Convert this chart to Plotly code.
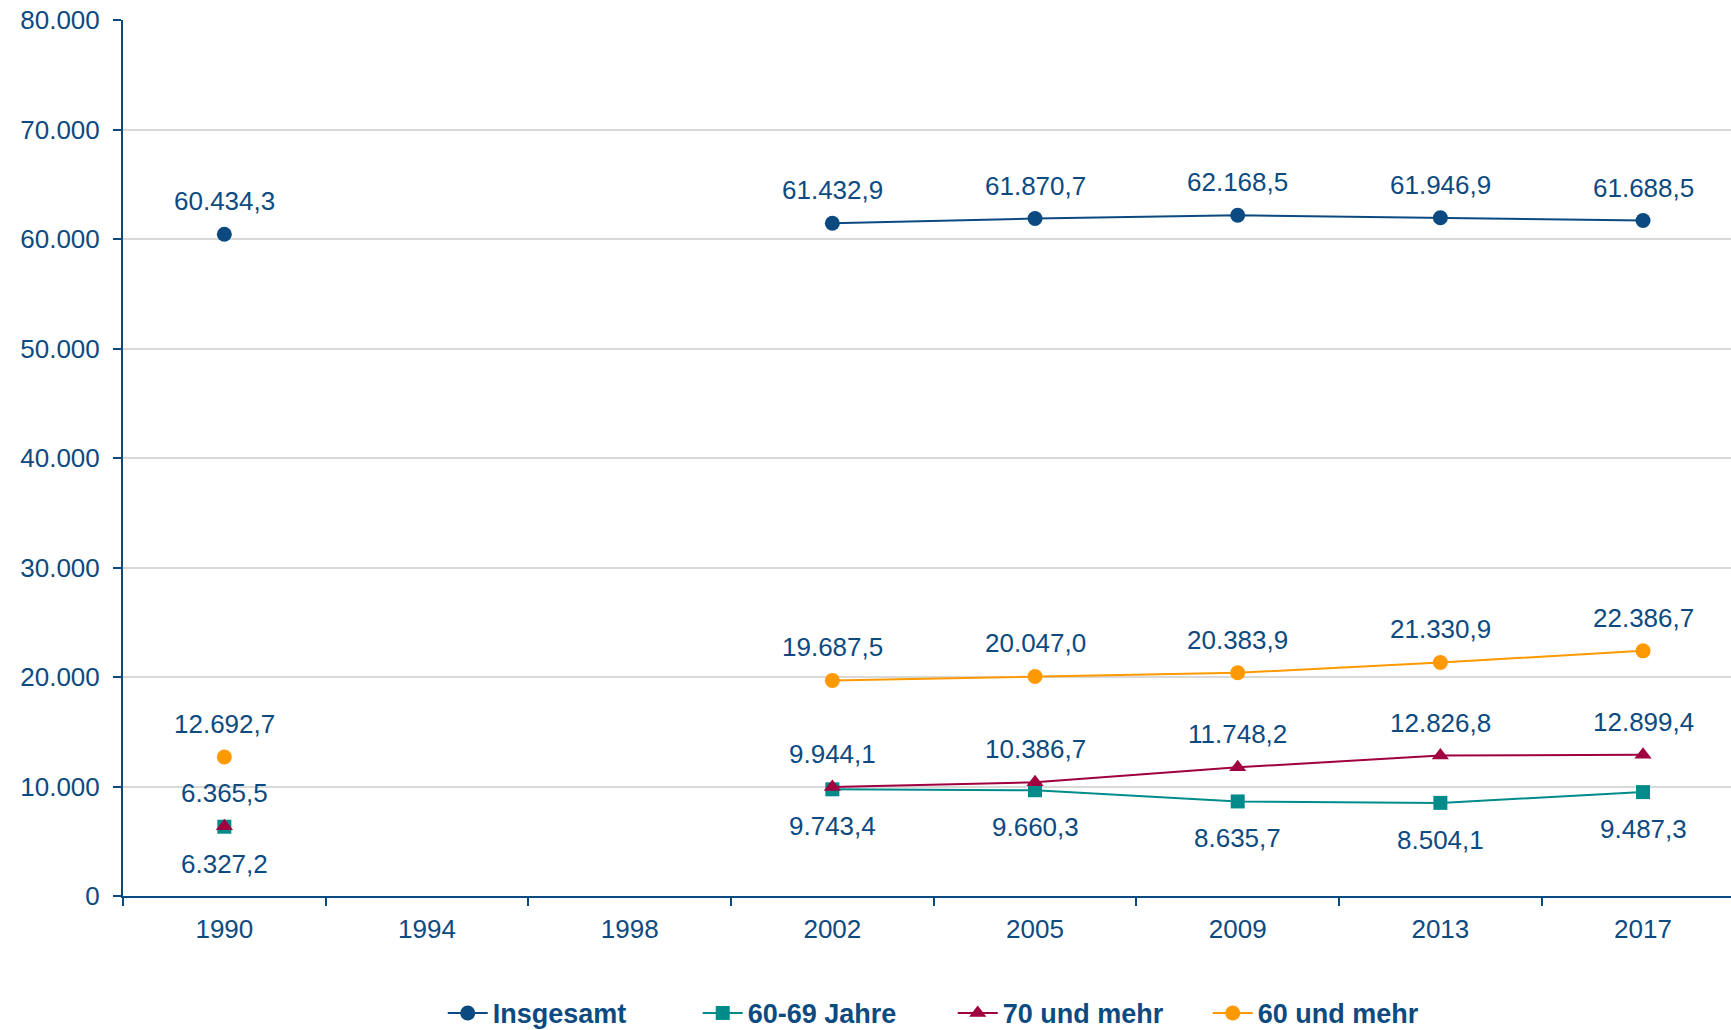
import plotly.graph_objects as go

years = ["1990", "1994", "1998", "2002", "2005", "2009", "2013", "2017"]
insgesamt = [60434.3, None, None, 61432.9, 61870.7, 62168.5, 61946.9, 61688.5]
j60_69 = [6327.2, None, None, 9743.4, 9660.3, 8635.7, 8504.1, 9487.3]
j70_plus = [6365.5, None, None, 9944.1, 10386.7, 11748.2, 12826.8, 12899.4]
j60_plus = [12692.7, None, None, 19687.5, 20047.0, 20383.9, 21330.9, 22386.7]
y_ticks = [0, 10000, 20000, 30000, 40000, 50000, 60000, 70000, 80000]

NAVY = "#0b4a80"
TEXT = "#0d4a80"
FONT = "Liberation Sans, Arial, sans-serif"
FS = 26

series = [
    ("Insgesamt", insgesamt, "#0b4a80", "circle", 15, 33),
    ("60-69 Jahre", j60_69, "#008b8b", "square", 14, -37),
    ("70 und mehr", j70_plus, "#a0003f", "triangle-up", 15, 33),
    ("60 und mehr", j60_plus, "#ff9900", "circle", 15, 33),
]


def de(v):
    s = f"{v:,.1f}"
    return s.replace(",", "X").replace(".", ",").replace("X", ".")


fig = go.Figure()
for name, vals, color, sym, msize, shift in series:
    fig.add_trace(go.Scatter(
        x=years, y=vals, name=name, mode="lines+markers",
        line=dict(color=color, width=2),
        marker=dict(color=color, symbol=sym, size=msize),
        connectgaps=False,
    ))
    for i, v in enumerate(vals):
        if v is None:
            continue
        # category axis: position by category index
        fig.add_annotation(
            x=i, y=v, xref="x", yref="y", text=de(v), showarrow=False,
            yshift=shift, font=dict(family=FONT, size=FS, color=TEXT),
        )

fig.update_layout(
    width=1731, height=1030, autosize=False,
    margin=dict(l=123, r=0, t=20, b=134, autoexpand=False),
    paper_bgcolor="white", plot_bgcolor="white",
    separators=",.",
    font=dict(family=FONT, size=FS, color=TEXT),
    showlegend=True,
    legend=dict(
        orientation="h", x=0.516, xanchor="center", y=-0.134, yanchor="middle",
        font=dict(family=FONT, size=27, color=TEXT, weight="bold"),
        itemwidth=40, entrywidth=200,
    ),
)
fig.update_xaxes(
    type="category", categoryorder="array", categoryarray=years,
    range=[-0.5, 7.434], automargin=False,
    showline=True, linecolor=NAVY, linewidth=2,
    ticks="outside", tickson="boundaries", ticklen=8, tickcolor=NAVY, tickwidth=2,
    showgrid=False, ticklabelstandoff=9,
    tickfont=dict(family=FONT, size=FS, color=TEXT),
)
fig.update_yaxes(
    range=[0, 80000], tickvals=y_ticks, tickformat=",.0f", automargin=False,
    showline=True, linecolor=NAVY, linewidth=2,
    ticks="outside", ticklen=8, tickcolor=NAVY, tickwidth=2,
    showgrid=True, gridcolor="#d9d9d9", gridwidth=2, zeroline=False,
    ticklabelstandoff=8,
    tickfont=dict(family=FONT, size=FS, color=TEXT),
)

fig.write_html(
    "out.html",
    config={"displayModeBar": False},
    post_script="document.body.style.margin='0';document.body.style.overflow='hidden';",
)
